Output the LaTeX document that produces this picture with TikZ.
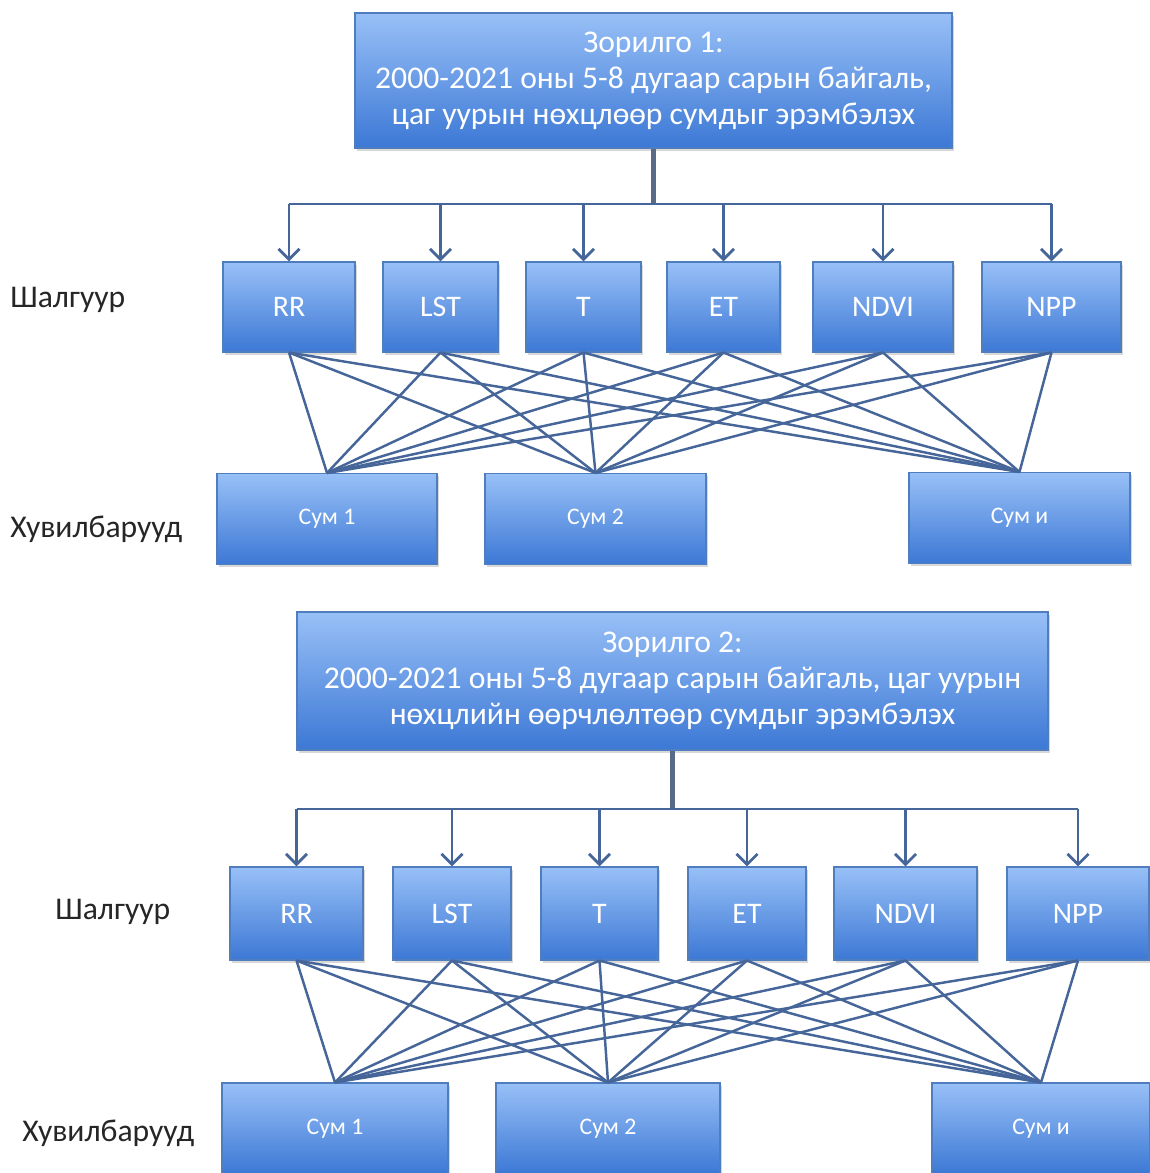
\documentclass[tikz,border=0pt]{standalone}
\usepackage{fontspec}
\setmainfont{Carlito}
\usetikzlibrary{arrows.meta,shadows}

\definecolor{boxtop}{RGB}{152,192,247}
\definecolor{boxbot}{RGB}{60,120,213}
\definecolor{boxline}{RGB}{80,125,190}
\definecolor{linkblue}{RGB}{70,102,154}
\definecolor{trunkgray}{RGB}{88,106,136}
\definecolor{labelgray}{RGB}{38,38,38}

\tikzset{
  bluebox/.style={rectangle, draw=boxline, line width=0.6pt, top color=boxtop, bottom color=boxbot,
    text=white, inner sep=0pt, align=center,
    drop shadow={shadow xshift=1pt, shadow yshift=-1.5pt, opacity=0.3}},
  goalbox/.style={bluebox, font=\fontsize{18}{20.5}\selectfont},
  critbox/.style={bluebox, font=\fontsize{17}{19}\selectfont},
  sumbox/.style={bluebox, minimum height=1.82cm, font=\fontsize{13.5}{15}\selectfont},
  sidelabel/.style={anchor=west, inner sep=0pt, text=labelgray, font=\fontsize{18}{21}\selectfont},
  link/.style={draw=linkblue, line width=1.4pt},
  trunk/.style={draw=trunkgray, line width=3pt},
  feed/.style={draw=linkblue, line width=1.6pt},
  feedarrow/.style={feed, -{Straight Barb[length=6pt,width=12pt]}}
}

\begin{document}
\begin{tikzpicture}
\fill[white] (0,0) rectangle (23,23.46);
\useasboundingbox (0,0) rectangle (23,23.46);

% Zorilgo 1
\node[goalbox, minimum width=11.94cm, minimum height=2.70cm] (goal1) at (13.07,21.85)
  {Зорилго 1:\\2000-2021 оны 5-8 дугаар сарын байгаль,\\цаг уурын нөхцлөөр сумдыг эрэмбэлэх};

\node[critbox, minimum width=2.64cm, minimum height=1.8cm] (rr1) at (5.78,17.32) {RR};
\node[critbox, minimum width=2.30cm, minimum height=1.8cm] (lst1) at (8.81,17.32) {LST};
\node[critbox, minimum width=2.30cm, minimum height=1.8cm] (t1) at (11.67,17.32) {T};
\node[critbox, minimum width=2.26cm, minimum height=1.8cm] (et1) at (14.47,17.32) {ET};
\node[critbox, minimum width=2.80cm, minimum height=1.8cm] (ndvi1) at (17.66,17.32) {NDVI};
\node[critbox, minimum width=2.78cm, minimum height=1.8cm] (npp1) at (21.03,17.32) {NPP};

\node[sumbox, minimum width=4.40cm] (sa1) at (6.54,13.08) {Сум 1};
\node[sumbox, minimum width=4.42cm] (sb1) at (11.91,13.08) {Сум 2};
\node[sumbox, minimum width=4.42cm] (sn1) at (20.39,13.10) {Сум и};

\node[sidelabel] (crit1) at (0.20,17.46) {Шалгуур};
\node[sidelabel] (alt1) at (0.20,12.88) {Хувилбарууд};

\coordinate (j1) at (13.07,19.38);
\draw[trunk] (goal1.south) -- (j1);
\draw[feed] (rr1.north |- j1) -- (npp1.north |- j1);
\foreach \c in {rr1,lst1,t1,et1,ndvi1,npp1} {
  \draw[feedarrow] (\c.north |- j1) -- (\c.north);
  \foreach \s in {sa1,sb1,sn1}
    \draw[link] (\c.south) -- (\s.north);
}

% Zorilgo 2
\node[goalbox, minimum width=15.02cm, minimum height=2.76cm] (goal2) at (13.45,9.84)
  {Зорилго 2:\\2000-2021 оны 5-8 дугаар сарын байгаль, цаг уурын\\нөхцлийн өөрчлөлтөөр сумдыг эрэмбэлэх};

\node[critbox, minimum width=2.66cm, minimum height=1.86cm] (rr2) at (5.93,5.19) {RR};
\node[critbox, minimum width=2.36cm, minimum height=1.86cm] (lst2) at (9.04,5.19) {LST};
\node[critbox, minimum width=2.34cm, minimum height=1.86cm] (t2) at (11.99,5.19) {T};
\node[critbox, minimum width=2.36cm, minimum height=1.86cm] (et2) at (14.94,5.19) {ET};
\node[critbox, minimum width=2.86cm, minimum height=1.86cm] (ndvi2) at (18.11,5.19) {NDVI};
\node[critbox, minimum width=2.84cm, minimum height=1.86cm] (npp2) at (21.56,5.19) {NPP};

\node[sumbox, minimum width=4.52cm] (sa2) at (6.70,0.89) {Сум 1};
\node[sumbox, minimum width=4.48cm] (sb2) at (12.16,0.89) {Сум 2};
\node[sumbox, minimum width=4.36cm] (sn2) at (20.82,0.89) {Сум и};

\node[sidelabel] (crit2) at (1.10,5.22) {Шалгуур};
\node[sidelabel] (alt2) at (0.44,0.80) {Хувилбарууд};

\coordinate (j2) at (13.45,7.28);
\draw[trunk] (goal2.south) -- (j2);
\draw[feed] (rr2.north |- j2) -- (npp2.north |- j2);
\foreach \c in {rr2,lst2,t2,et2,ndvi2,npp2} {
  \draw[feedarrow] (\c.north |- j2) -- (\c.north);
  \foreach \s in {sa2,sb2,sn2}
    \draw[link] (\c.south) -- (\s.north);
}
\end{tikzpicture}
\end{document}
